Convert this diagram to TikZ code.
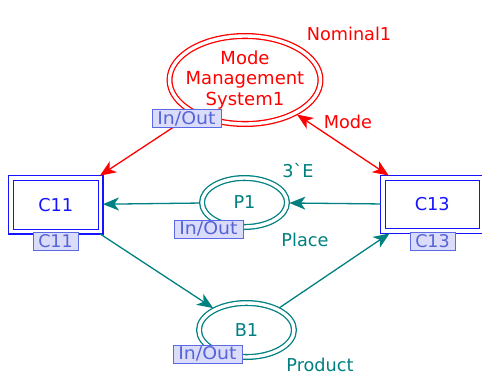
\documentclass[tikz,border=0pt]{standalone}
\usepackage{fontspec}
\newfontfamily\dv{DejaVu Sans}
\usetikzlibrary{arrows.meta,shapes.geometric}
\definecolor{cpnred}{RGB}{255,0,0}
\definecolor{cpnblue}{RGB}{20,20,255}
\definecolor{cpnteal}{RGB}{0,128,128}
\definecolor{tagfill}{RGB}{218,220,250}
\definecolor{tagdraw}{RGB}{90,105,230}
\definecolor{tagtext}{RGB}{85,100,215}
\begin{document}
\begin{tikzpicture}[x=1pt,y=-1pt,
 every node/.style={font=\dv\fontsize{17.7}{20.5}\selectfont, inner sep=0pt},
 place/.style={ellipse, draw, double, line width=1.3pt, double distance=3.4pt, outer sep=2.4pt},
 trans/.style={rectangle, draw=cpnblue, double, line width=1.4pt, double distance=3.2pt, outer sep=2.4pt, text=cpnblue},
 tag/.style={rectangle, draw=tagdraw, fill=tagfill, text=tagtext, line width=1pt, minimum height=18pt, font=\dv\fontsize{17.5}{17.5}\selectfont},
 >={Stealth[length=16pt,width=13pt,inset=4.5pt]},
 arc/.style={line width=1.3pt}
]
\useasboundingbox (0,0) rectangle (482,373);
\clip (0,0) rectangle (482,373);
\node[place, draw=cpnred, minimum width=151pt, minimum height=88pt,
  label={[text=cpnred, align=center, font=\dv\fontsize{18}{20.5}\selectfont]center:Mode\\Management\\System1}] (mms) at (245,80) {};
\node[trans, minimum width=89.5pt, minimum height=53.5pt] (c11) at (55.75,204.75) {C11};
\node[trans, minimum width=98.5pt, minimum height=53pt] (c13) at (432.25,204.5) {C13};
\node[place, draw=cpnteal, text=cpnteal, minimum width=85pt, minimum height=49pt] (p1) at (244.5,202.5) {P1};
\node[place, draw=cpnteal, text=cpnteal, minimum width=95pt, minimum height=54pt] (b1) at (246.5,330) {B1};

\draw[arc, cpnred, ->] (mms) -- (c11);
\draw[arc, cpnred, <->] (mms) -- (c13);
\draw[arc, cpnteal, ->] (c13) -- (p1);
\draw[arc, cpnteal, ->] (p1) -- (c11);
\draw[arc, cpnteal, ->] (c11) -- (b1);
\draw[arc, cpnteal, ->] (b1) -- (c13);

\node[tag, minimum width=69pt] (t1) at (186.5,118.5) {\scalebox{1.08}[1]{In/Out}};
\node[tag, minimum width=69pt] (t2) at (208.5,229) {\scalebox{1.08}[1]{In/Out}};
\node[tag, minimum width=69pt] (t3) at (207.5,354) {\scalebox{1.08}[1]{In/Out}};
\node[tag, minimum width=45pt] (t4) at (55.5,241) {C11};
\node[tag, minimum width=45pt] (t5) at (432.5,241) {C13};

\node[text=cpnred] (nom) at (349,34) {Nominal1};
\node[text=cpnred] (ml) at (348,122) {Mode};
\node[text=cpnteal] (ie) at (298,171) {3`E};
\node[text=cpnteal] (pl) at (305,240) {Place};
\node[text=cpnteal] (pr) at (320,365) {Product};
\end{tikzpicture}
\end{document}
